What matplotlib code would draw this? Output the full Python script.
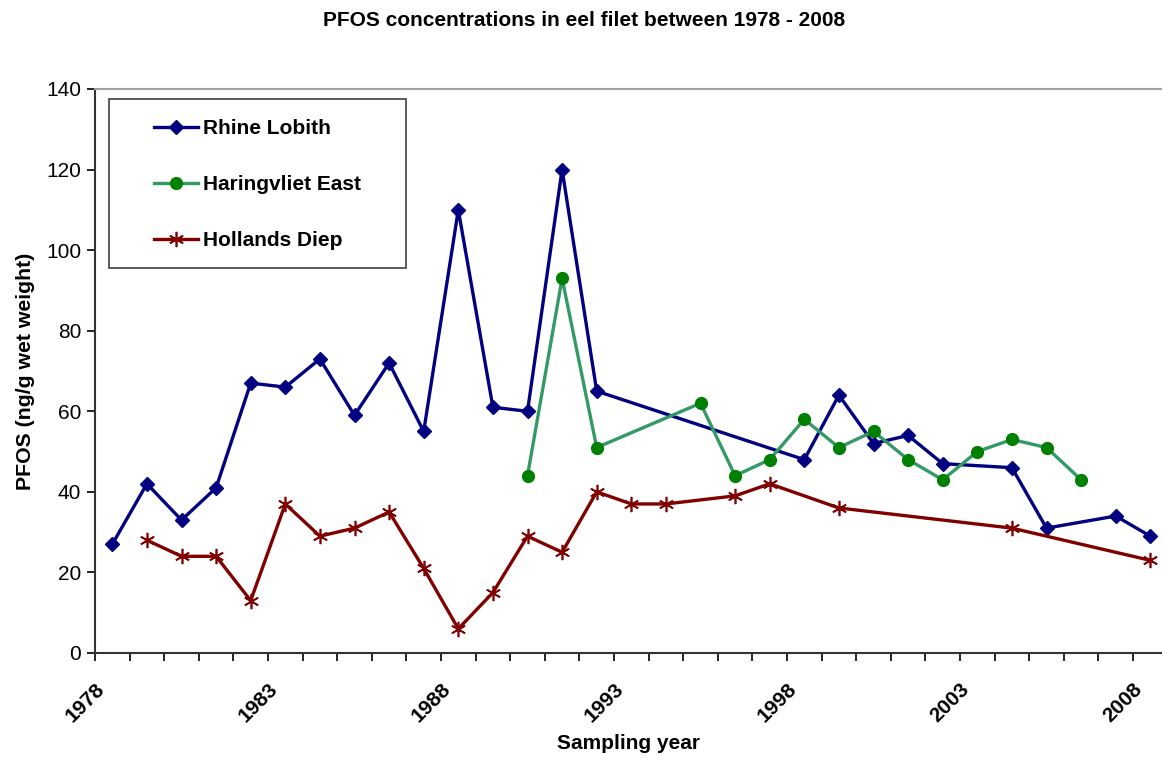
import matplotlib
matplotlib.use("Agg")
import matplotlib.pyplot as plt
from matplotlib.patches import Rectangle

plt.rcParams['font.family'] = ['Liberation Sans', 'DejaVu Sans']

# sampling years and PFOS values (ng/g wet weight)
rhine_years = [1978, 1979, 1980, 1981, 1982, 1983, 1984, 1985, 1986, 1987, 1988,
               1989, 1990, 1991, 1992, 1998, 1999, 2000, 2001, 2002, 2004, 2005,
               2007, 2008]
rhine_vals = [27, 42, 33, 41, 67, 66, 73, 59, 72, 55, 110,
              61, 60, 120, 65, 48, 64, 52, 54, 47, 46, 31,
              34, 29]

haring_years = [1990, 1991, 1992, 1995, 1996, 1997, 1998, 1999, 2000, 2001,
                2002, 2003, 2004, 2005, 2006]
haring_vals = [44, 93, 51, 62, 44, 48, 58, 51, 55, 48,
               43, 50, 53, 51, 43]

diep_years = [1979, 1980, 1981, 1982, 1983, 1984, 1985, 1986, 1987, 1988,
              1989, 1990, 1991, 1992, 1993, 1994, 1996, 1997, 1999, 2004, 2008]
diep_vals = [28, 24, 24, 13, 37, 29, 31, 35, 21, 6,
             15, 29, 25, 40, 37, 37, 39, 42, 36, 31, 23]

tick_years = [1978, 1983, 1988, 1993, 1998, 2003, 2008]

fig = plt.figure(figsize=(11.62, 7.58), dpi=100)
ax = fig.add_axes([95/1162, 1 - 653/758, 1067/1162, 564/758])

# points sit in the middle of each year category
ax.plot([y + 0.5 for y in rhine_years], rhine_vals, color='#000080', lw=2.4,
        marker='D', ms=7, label='Rhine Lobith', clip_on=False)
ax.plot([y + 0.5 for y in haring_years], haring_vals, color='#339966', lw=2.4,
        marker='o', ms=8.5, mfc='#008000', mec='#008000', label='Haringvliet East',
        clip_on=False)
ax.plot([y + 0.5 for y in diep_years], diep_vals, color='#800000', lw=2.4,
        marker=(6, 2, 0), ms=11, mew=1.2, label='Hollands Diep', clip_on=False)

ax.set_xlim(1978, 1978 + 1067/34.6)
ax.set_ylim(0, 140)
ax.set_yticks(range(0, 141, 20))
ax.set_xticks(range(1978, 2009))
ax.set_xticklabels([str(y) if y in tick_years else '' for y in range(1978, 2009)],
                   rotation=45, ha='right', rotation_mode='anchor',
                   fontsize=15, fontweight='bold')
ax.tick_params(axis='y', labelsize=15, length=6, width=1.2, direction='out', pad=4)
ax.tick_params(axis='x', length=6, width=1.2, direction='out', pad=13)

ax.spines['right'].set_visible(False)
ax.spines['top'].set_color('#a0a0a0')
ax.spines['top'].set_linewidth(1.5)
for s in ['left', 'bottom']:
    ax.spines[s].set_color('#333333')
    ax.spines[s].set_linewidth(1.5)

ax.set_xlabel('Sampling year', fontsize=15, fontweight='bold', labelpad=6)
ax.set_ylabel('PFOS (ng/g wet weight)', fontsize=15.3, fontweight='bold', labelpad=8)
fig.text(0.5 * (321 + 847) / 1162, 1 - 21/758,
         'PFOS concentrations in eel filet between 1978 - 2008',
         fontsize=15, fontweight='bold', ha='center', va='center')

# legend frame drawn separately, like the boxed Excel legend
ax.add_patch(Rectangle(((109 - 95)/1067, (653 - 268)/564), 297/1067, 169/564,
                       transform=ax.transAxes, fill=True, fc='white',
                       ec='#404040', lw=1.2, zorder=5))
leg = ax.legend(loc='upper left', bbox_to_anchor=((154 - 95)/1067, (653 - 119)/564),
                frameon=False, prop={'size': 15, 'weight': 'bold'},
                handlelength=2.1, handletextpad=0.25, labelspacing=1.78,
                borderpad=0, borderaxespad=0)
leg.set_zorder(6)

fig.savefig('out.png', dpi=100)
